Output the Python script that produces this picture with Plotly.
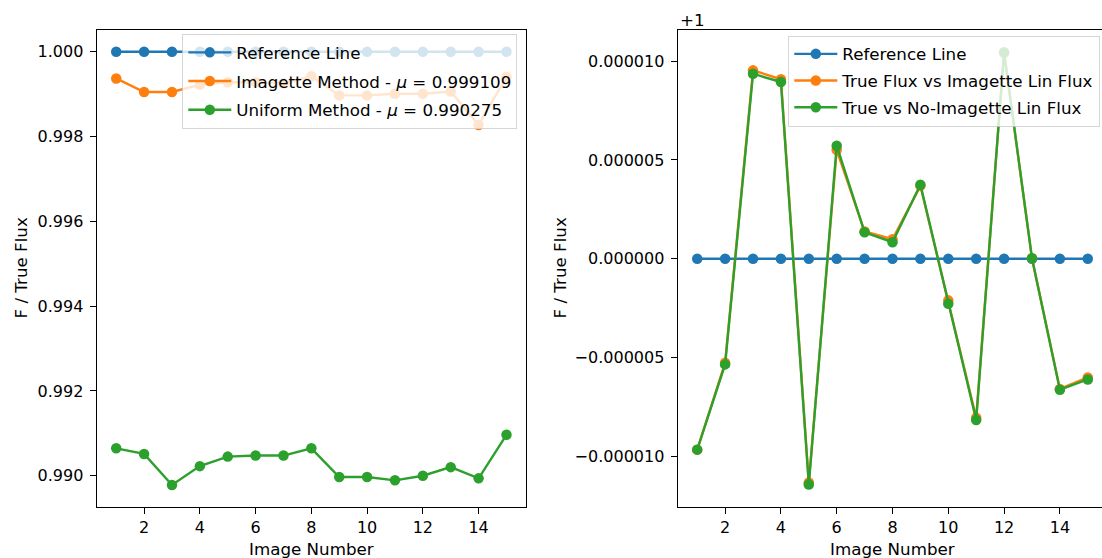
import plotly.graph_objects as go

# ---------------- data ----------------
image_number = list(range(1, 16))

# left panel: F / True Flux
reference_left = [1.0] * 15
imagette_method = [0.99937, 0.99905, 0.99905, 0.99922, 0.99928, 0.99928, 0.99925, 0.99942,
                   0.99897, 0.99897, 0.99901, 0.99901, 0.99906, 0.99827, 0.99941]
uniform_method = [0.990646, 0.990514, 0.989782, 0.990226, 0.990451, 0.990475, 0.990475, 0.990646,
                  0.989969, 0.989969, 0.989891, 0.990000, 0.990202, 0.989938, 0.990965]
imagette_label = "Imagette Method - <i>μ</i> = 0.999109"
uniform_label = "Uniform Method - <i>μ</i> = 0.990275"

# right panel: F / True Flux minus 1, in units of 1e-6 (axis shows offset "+1")
reference_right_dev = [0.0] * 15
imagette_lin_dev = [-9.65, -5.25, 9.53, 9.08, -11.31, 5.50, 1.38, 0.99,
                    3.69, -2.10, -8.04, 10.40, 0.03, -6.58, -6.00]
no_imagette_lin_dev = [-9.65, -5.34, 9.36, 8.94, -11.41, 5.72, 1.34, 0.84,
                       3.75, -2.27, -8.15, 10.45, 0.03, -6.62, -6.10]

left_yticks = [0.990, 0.992, 0.994, 0.996, 0.998, 1.000]
right_yticks = [-10, -5, 0, 5, 10]
xticks = [2, 4, 6, 8, 10, 12, 14]

# ---------------- style ----------------
BLUE, ORANGE, GREEN = "#1f77b4", "#ff7f0e", "#2ca02c"
FONT = "DejaVu Sans"
FS_TICK = 16
FS = 16.7
W, H = 1102, 558
ML, MR, MT, MB = 0, 0, 30, 51
PH = H - MT - MB


def px_x(p):
    return p / W


def px_y(p):
    return (H - MB - p) / PH


def line_trace(x, y, color, name, xa, ya, legend, group):
    return go.Scatter(x=x, y=y, mode="lines+markers", name=name,
                      line=dict(color=color, width=2.4),
                      marker=dict(color=color, size=10.5, line=dict(width=0)),
                      xaxis=xa, yaxis=ya, legend=legend, legendgroup=group)


fig = go.Figure()
fig.add_trace(line_trace(image_number, reference_left, BLUE, "Reference Line", "x", "y", "legend", "a"))
fig.add_trace(line_trace(image_number, imagette_method, ORANGE, imagette_label, "x", "y", "legend", "b"))
fig.add_trace(line_trace(image_number, uniform_method, GREEN, uniform_label, "x", "y", "legend", "c"))

scale = 1e-6
fig.add_trace(line_trace(image_number, [v * scale for v in reference_right_dev], BLUE,
                         "Reference Line", "x2", "y2", "legend2", "d"))
fig.add_trace(line_trace(image_number, [v * scale for v in imagette_lin_dev], ORANGE,
                         "True Flux vs Imagette Lin Flux", "x2", "y2", "legend2", "e"))
fig.add_trace(line_trace(image_number, [v * scale for v in no_imagette_lin_dev], GREEN,
                         "True vs No-Imagette Lin Flux", "x2", "y2", "legend2", "f"))

axis_common = dict(showgrid=False, zeroline=False, showline=True, linecolor="black", linewidth=1.3,
                   ticks="outside", ticklen=6, tickwidth=1.3, tickcolor="black",
                   tickfont=dict(family=FONT, size=FS_TICK, color="black"), automargin=False)

legend_common = dict(xanchor="right", yanchor="top", traceorder="grouped",
                     bgcolor="rgba(255,255,255,0.8)", bordercolor="rgba(204,204,204,0.8)",
                     borderwidth=1, font=dict(family=FONT, size=FS, color="black"), itemwidth=43)

fig.update_layout(
    width=W, height=H,
    margin=dict(l=ML, r=MR, t=MT, b=MB),
    paper_bgcolor="white", plot_bgcolor="white",
    showlegend=True,
    font=dict(family=FONT, size=FS, color="black"),
    xaxis=dict(domain=[px_x(96.7), px_x(526)], range=[0.3, 15.7], tickvals=xticks,
               mirror=True, anchor="y", **axis_common),
    yaxis=dict(domain=[0, 1], range=[0.989262, 1.000512], tickvals=left_yticks,
               tickformat=".3f", mirror=True, anchor="x", ticklabelstandoff=3, **axis_common),
    xaxis2=dict(domain=[px_x(677.7), 1], range=[0.3, 15.51], tickvals=xticks,
                mirror=True, anchor="y2", **axis_common),
    yaxis2=dict(domain=[0, 1], range=[-12.55e-6, 11.57e-6], tickvals=[v * scale for v in right_yticks],
                tickformat=".6f", mirror=False, anchor="x2", ticklabelstandoff=3, **axis_common),
    legend=dict(x=px_x(517.3), y=px_y(34), tracegroupgap=4, **legend_common),
    legend2=dict(x=px_x(1100.3), y=px_y(35.5), tracegroupgap=2, **legend_common),
)

ann_font = dict(family=FONT, size=FS, color="black")
annotations = [
    dict(text="Image Number", x=px_x(311.3), y=px_y(549), xanchor="center", yanchor="middle"),
    dict(text="Image Number", x=px_x(892.5), y=px_y(549), xanchor="center", yanchor="middle"),
    dict(text="F / True Flux", x=px_x(20), y=px_y(268.5), xanchor="center", yanchor="middle",
         textangle=-90),
    dict(text="F / True Flux", x=px_x(559), y=px_y(268.5), xanchor="center", yanchor="middle",
         textangle=-90),
    dict(text="+1", x=px_x(678), y=px_y(20), xanchor="left", yanchor="middle"),
]
for a in annotations:
    fig.add_annotation(xref="paper", yref="paper", showarrow=False, font=ann_font, **a)

fig.write_html("out.html")
